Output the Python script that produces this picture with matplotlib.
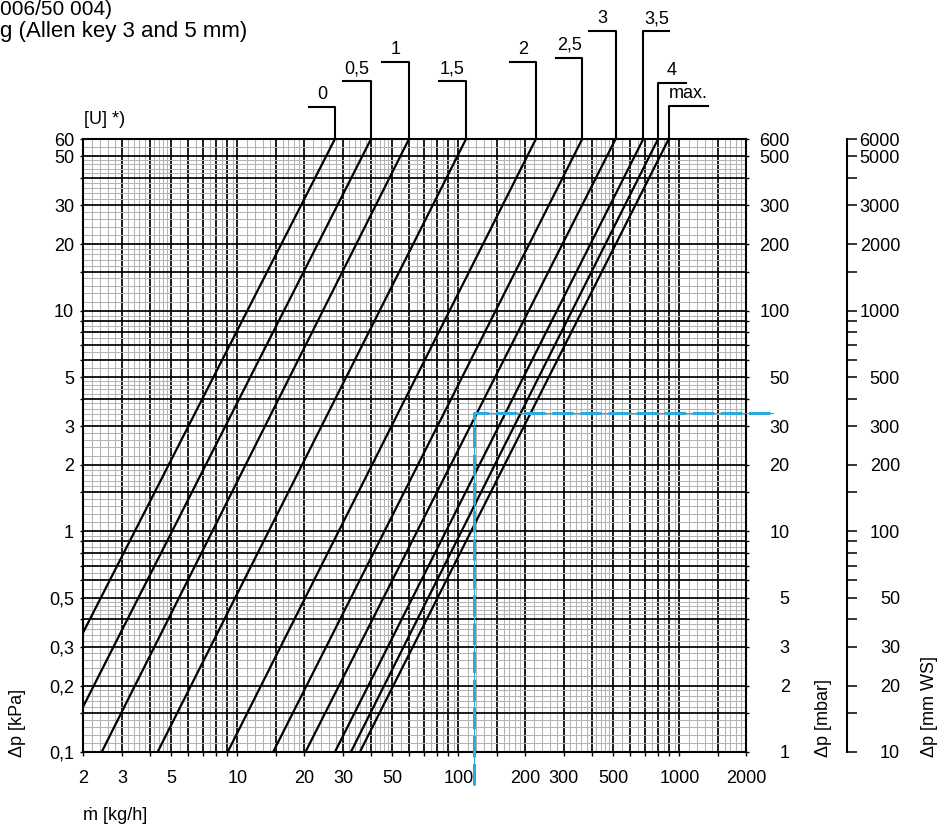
import numpy as np
import matplotlib
matplotlib.use("Agg")
import matplotlib.pyplot as plt
from matplotlib.lines import Line2D
from matplotlib.ticker import LogLocator, FixedLocator, FuncFormatter, NullLocator
from matplotlib.transforms import IdentityTransform

plt.rcParams['font.family'] = ['Liberation Sans', 'DejaVu Sans']
plt.rcParams['font.size'] = 13

# presetting curves, each one a straight line on log-log paper:
# mass flow [kg/h] and pressure drop [kPa] at its lower and upper end
settings = ["0", "0,5", "1", "1,5", "2", "2,5", "3", "3,5", "4", "max."]
m_low = [2, 2, 2.43, 4.35, 9.03, 14.5, 20.3, 27.6, 32.6, 35.8]
dp_low = [0.347, 0.16, 0.1, 0.1, 0.1, 0.1, 0.1, 0.1, 0.1, 0.1]
m_high = [27.6, 40.2, 59.7, 108.2, 224, 363, 514, 686, 800, 894]
dp_high = [60, 60, 60, 60, 60, 60, 60, 60, 60, 60]

# worked example (blue dashed)
m_example = 118
dp_example = 3.44

mdot_labels = [2, 3, 5, 10, 20, 30, 50, 100, 200, 300, 500, 1000, 2000]
kpa_labels = [0.1, 0.2, 0.3, 0.5, 1, 2, 3, 5, 10, 20, 30, 50, 60]
mbar_labels = [1, 2, 3, 5, 10, 20, 30, 50, 100, 200, 300, 500, 600]
mmws_ticks = [10, 15, 20, 30, 40, 50, 60, 70, 80, 90, 100, 150, 200, 300, 400,
              500, 600, 700, 800, 900, 1000, 1500, 2000, 3000, 4000, 5000, 6000]
mmws_labels = [10, 20, 30, 50, 100, 200, 300, 500, 1000, 2000, 3000, 5000, 6000]

# leader lines to the setting labels (pixels)
rise_px = [32, 58, 77, 58, 77, 81, 108, 108, 56, 33]
side = [-1, -1, -1, -1, -1, -1, -1, 1, 1, 1]
seg_px = [26, 28, 27, 27, 26, 26, 27, 26, 28, 39]

W, H = 940, 827
L, R, T, B = 83, 746, 139, 752


def labeller(values):
    def fmt(v, pos):
        for lv in values:
            if np.isclose(v, lv, rtol=1e-6):
                return f"{lv:g}".replace(".", ",")
        return ""
    return FuncFormatter(fmt)


# graph paper: black lines and grey fine lines within each decade
major_subs = (1, 1.5, 2, 3, 4, 5, 6, 7, 8, 9)
fine = (list(np.arange(1.1, 2.0, 0.1)) + list(np.arange(2.2, 5.0, 0.2))
        + [5.5, 6.5, 7.5, 8.5, 9.5])
minor_subs = [s for s in fine if not np.any(np.isclose(s, major_subs))]

fig = plt.figure(figsize=(W / 100, H / 100), dpi=100)
ax = fig.add_axes([L / W, 1 - B / H, (R - L) / W, (B - T) / H])
ax.set_xscale('log')
ax.set_yscale('log')
ax.set_xlim(2, 2000)
ax.set_ylim(0.1, 60)

for axis in (ax.xaxis, ax.yaxis):
    axis.set_major_locator(LogLocator(base=10, subs=major_subs, numticks=100))
    axis.set_minor_locator(LogLocator(base=10, subs=minor_subs, numticks=100))
ax.xaxis.set_major_formatter(labeller(mdot_labels))
ax.yaxis.set_major_formatter(labeller(kpa_labels))
ax.xaxis.set_minor_formatter(FuncFormatter(lambda v, p: ""))
ax.yaxis.set_minor_formatter(FuncFormatter(lambda v, p: ""))

ax.set_axisbelow(True)
ax.grid(which='minor', color='#b4b4b4', lw=0.75)
ax.grid(which='major', color='black', lw=1.25)
ax.tick_params(which='minor', length=0)
ax.tick_params(axis='x', which='major', direction='out', length=3, width=1, pad=10)
ax.tick_params(axis='y', which='major', direction='out', length=2.5, width=1, pad=4)
for s in ax.spines.values():
    s.set_linewidth(1.5)

for i in range(len(settings)):
    ax.plot([m_low[i], m_high[i]], [dp_low[i], dp_high[i]], color='black', lw=1.6)

# right axis in mbar
ax2 = ax.twinx()
ax2.set_yscale('log')
ax2.set_ylim(1, 600)
ax2.yaxis.set_major_locator(LogLocator(base=10, subs=major_subs, numticks=100))
ax2.yaxis.set_minor_locator(NullLocator())
ax2.yaxis.set_major_formatter(labeller(mbar_labels))
ax2.tick_params(axis='y', which='major', direction='out', length=2.5, width=1, pad=29)
plt.setp(ax2.get_yticklabels(), ha='right')
for s in ax2.spines.values():
    s.set_visible(False)

# separate scale in mm WS
ax3 = fig.add_axes([(847 - 10) / W, 1 - B / H, 10 / W, (B - T) / H])
ax3.set_yscale('log')
ax3.set_ylim(10, 6000)
ax3.patch.set_visible(False)
for s in ['left', 'top', 'bottom']:
    ax3.spines[s].set_visible(False)
ax3.spines['right'].set_linewidth(1.5)
ax3.set_xticks([])
ax3.yaxis.tick_right()
ax3.yaxis.set_major_locator(FixedLocator(mmws_ticks))
ax3.yaxis.set_minor_locator(NullLocator())
ax3.yaxis.set_major_formatter(labeller(mmws_labels))
ax3.tick_params(axis='y', which='major', direction='out', length=7.2, width=1.1, pad=31)
plt.setp(ax3.get_yticklabels(), ha='right')
for t in ax3.yaxis.get_major_ticks():
    if t.get_loc() in (15, 150, 1500):
        t.tick2line.set_color('#777777')

# leader lines and setting labels above the chart
for i, name in enumerate(settings):
    x0, y0 = ax.transData.transform((m_high[i], dp_high[i]))
    y1 = y0 + rise_px[i]
    x1 = x0 + side[i] * seg_px[i]
    fig.add_artist(Line2D([x0, x0, x1], [y0, y1, y1], transform=IdentityTransform(),
                          color='black', lw=1.5))
    fig.text((x0 + x1) / 2 / W, (y1 + 4) / H, name, ha='center', va='bottom')

# worked example
ex, ey = ax.transData.transform((m_example, dp_example))
px = [ex, ex, 773]
py = [H - 785, ey, ey]
fig.add_artist(Line2D(px, py, transform=IdentityTransform(), color='#29abe2', lw=0.8, zorder=5))
fig.add_artist(Line2D(px, py, transform=IdentityTransform(), color='#29abe2', lw=2.2,
                      linestyle=(0, (7, 2.2)), zorder=5))

# axis titles
fig.text(17 / W, 1 - 757 / H, 'Δp [kPa]', rotation=90, ha='center', va='bottom')
fig.text(823 / W, 1 - 757 / H, 'Δp [mbar]', rotation=90, ha='center', va='bottom')
fig.text(930 / W, 1 - 757 / H, 'Δp [mm WS]', rotation=90, ha='center', va='bottom')
fig.text(83 / W, 1 - 816 / H, 'ṁ [kg/h]', ha='left', va='center')
fig.text(84 / W, 1 - 120 / H, '[U] *)', ha='left', va='center')

# heading
fig.text(0, 1 - 15 / H, '006/50 004)', ha='left', va='baseline', fontsize=15)
fig.text(0, 1 - 31 / H, 'g (Allen key 3 and 5 mm)', ha='left', va='center', fontsize=16)

fig.savefig('out.png', dpi=100)
